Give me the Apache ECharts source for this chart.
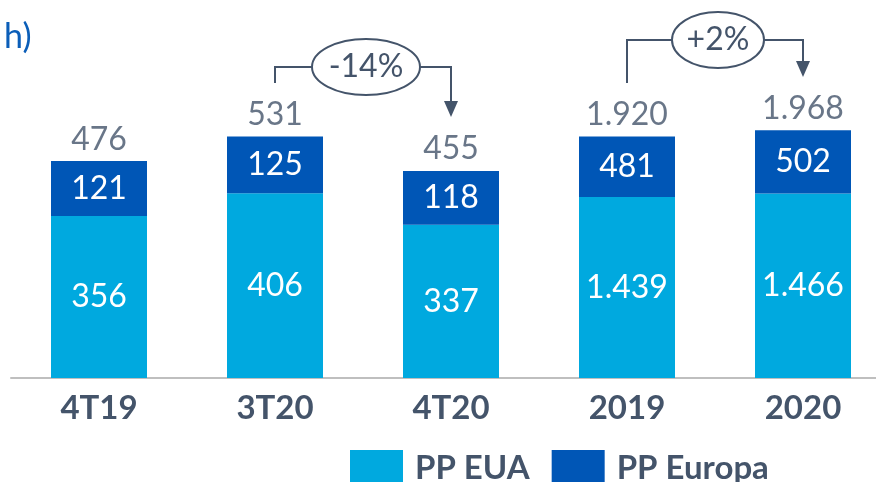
<!DOCTYPE html>
<html>
<head>
    <meta charset="utf-8">
    <title>PP EUA / PP Europa</title>
    <script src="https://cdn.jsdelivr.net/npm/echarts@6/dist/echarts.min.js"></script>
    <style>
        html, body { margin: 0; padding: 0; background: #fff; }
    </style>
</head>
<body>
    <div id="main" style="width: 876px;height:482px;"></div>
    <script type="text/javascript">
        // dados
        var categorias = ['4T19', '3T20', '4T20', '2019', '2020'];
        var ppEuaTri = [356, 406, 337, null, null];
        var ppEuropaTri = [121, 125, 118, null, null];
        var ppEuaAno = [null, null, null, 1439, 1466];
        var ppEuropaAno = [null, null, null, 481, 502];
        var totalTri = [476, 531, 455, null, null];
        var totalAno = [null, null, null, 1920, 1968];
        var variacoes = [
            { de: '3T20', para: '4T20', texto: '-14%' },
            { de: '2019', para: '2020', texto: '+2%' }
        ];

        var corEua = '#00A9DF';
        var corEuropa = '#0056B6';
        var corTexto = '#44546A';

        function fmt(v) {
            return String(v).replace(/\B(?=(\d{3})+(?!\d))/g, '.');
        }

        var labelDentro = {
            show: true,
            position: 'inside',
            color: '#fff',
            fontSize: 32,
            fontFamily: 'Lato',
            formatter: function (p) { return fmt(p.value); }
        };
        var labelTotal = {
            show: true,
            position: 'top',
            distance: 6,
            color: corTexto,
            fontSize: 32,
            fontFamily: 'Lato',
            formatter: function (p) { return fmt(p.value); }
        };

        var myChart = echarts.init(document.getElementById('main'));

        var option = {
            animation: false,
            title: {
                text: 'h)',
                left: -1,
                top: 15,
                textStyle: { color: '#0B5EB8', fontSize: 34, fontWeight: 'normal', fontFamily: 'Lato' }
            },
            legend: {
                data: ['PP EUA', 'PP Europa'],
                left: 345,
                top: 445,
                itemWidth: 53,
                itemHeight: 37,
                itemGap: 22,
                icon: 'rect',
                textStyle: { color: corTexto, fontSize: 33, fontWeight: 'bold', fontFamily: 'Lato', padding: [0, 0, 0, 7] }
            },
            grid: { left: 11, width: 880, top: 20, bottom: 104, outerBoundsMode: 'none' },
            xAxis: {
                type: 'category',
                data: categorias,
                axisTick: { show: false },
                axisLine: { lineStyle: { color: '#BFBFBF', width: 2 } },
                axisLabel: { color: corTexto, fontSize: 33, fontWeight: 'bold', fontFamily: 'Lato', margin: 14 }
            },
            yAxis: [
                { type: 'value', min: 0, max: 787, show: false },
                { type: 'value', min: 0, max: 2845, show: false }
            ],
            series: [
                { name: 'PP EUA', type: 'bar', stack: 'tri', yAxisIndex: 0, barWidth: 96, barGap: '-100%',
                  itemStyle: { color: corEua }, label: labelDentro, data: ppEuaTri },
                { name: 'PP Europa', type: 'bar', stack: 'tri', yAxisIndex: 0, barWidth: 96,
                  itemStyle: { color: corEuropa }, label: labelDentro, data: ppEuropaTri },
                { name: 'PP EUA', type: 'bar', stack: 'ano', yAxisIndex: 1, barWidth: 96, barGap: '-100%',
                  itemStyle: { color: corEua }, label: labelDentro, data: ppEuaAno },
                { name: 'PP Europa', type: 'bar', stack: 'ano', yAxisIndex: 1, barWidth: 96,
                  itemStyle: { color: corEuropa }, label: labelDentro, data: ppEuropaAno },
                { name: 'total tri', type: 'scatter', yAxisIndex: 0, symbolSize: 0, label: labelTotal, data: totalTri },
                { name: 'total ano', type: 'scatter', yAxisIndex: 1, symbolSize: 0, label: labelTotal, data: totalAno }
            ]
        };
        myChart.setOption(option);

        // setas de variacao
        var niveis = [{ base: 83, topo: 67, fim: 103, rx: 54 }, { base: 83, topo: 40, fim: 63, rx: 46 }];
        var elementos = [];
        variacoes.forEach(function (v, i) {
            var x1 = myChart.convertToPixel({ xAxisIndex: 0 }, v.de);
            var x2 = myChart.convertToPixel({ xAxisIndex: 0 }, v.para);
            var n = niveis[i];
            var cx = (x1 + x2) / 2 + 3;
            var estilo = { stroke: corTexto, lineWidth: 2, fill: null };
            elementos.push({ type: 'polyline', shape: { points: [[x1, n.base], [x1, n.topo], [x2, n.topo], [x2, n.fim]] }, style: estilo });
            elementos.push({ type: 'polygon', shape: { points: [[x2 - 7, n.fim - 2], [x2 + 7, n.fim - 2], [x2, n.fim + 14]] }, style: { fill: corTexto } });
            elementos.push({ type: 'ellipse', shape: { cx: cx, cy: n.topo, rx: n.rx, ry: 28 }, style: { fill: '#fff', stroke: corTexto, lineWidth: 2 } });
            elementos.push({ type: 'text', x: cx, y: n.topo, style: { text: v.texto, fill: corTexto, fontSize: 32, fontFamily: 'Lato', align: 'center', verticalAlign: 'middle' } });
        });
        myChart.setOption({ graphic: elementos });
    </script>
</body>
</html>
